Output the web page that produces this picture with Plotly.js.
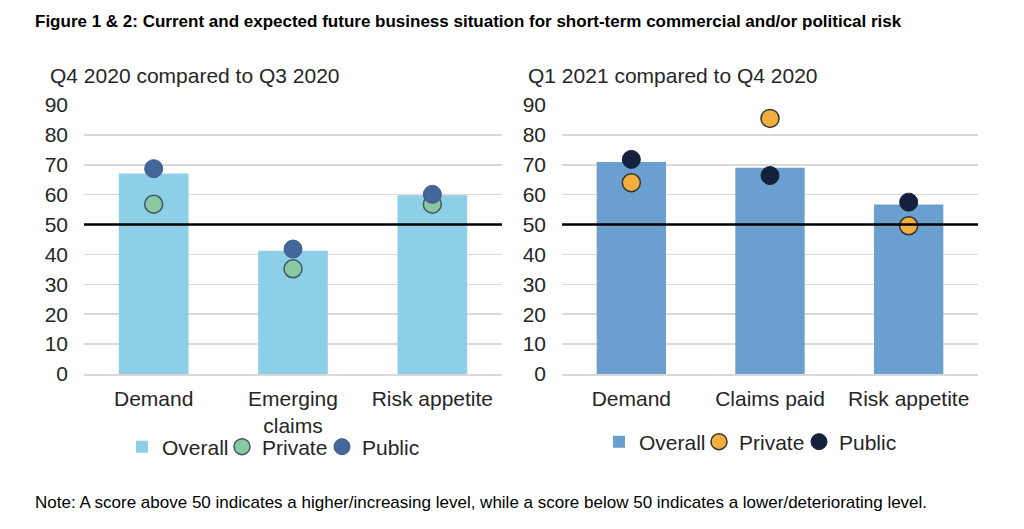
<!DOCTYPE html>
<html>
<head>
<meta charset="utf-8">
<script src="https://cdn.plot.ly/plotly-3.0.1.min.js"></script>
<style>html,body{margin:0;padding:0;background:#fff;}#chart{width:1024px;height:529px;}</style>
</head>
<body>
<div id="chart"></div>
<script>
// ---- Data ----
const leftCategories = ['Demand', 'Emerging<br>claims', 'Risk appetite'];
const leftOverall = [67.1, 41.2, 59.8];
const leftPrivate = [56.8, 35.2, 56.8];
const leftPublic = [68.7, 41.8, 60.1];

const rightCategories = ['Demand', 'Claims paid', 'Risk appetite'];
const rightOverall = [70.9, 69.0, 56.7];
const rightPrivate = [64.0, 85.5, 49.6];
const rightPublic = [71.8, 66.4, 57.5];

const yTicks = [0, 10, 20, 30, 40, 50, 60, 70, 80, 90];
const threshold = 50;

const leftTitle = 'Q4 2020 compared to Q3 2020';
const rightTitle = 'Q1 2021 compared to Q4 2020';
const figTitle = 'Figure 1 & 2: Current and expected future business situation for short-term commercial and/or political risk';
const noteText = 'Note: A score above 50 indicates a higher/increasing level, while a score below 50 indicates a lower/deteriorating level.';

// ---- Layout helpers ----
const W = 1024, H = 529;
const px = v => v / W;
const py = v => 1 - v / H;
const FONT = 'Liberation Sans, Arial, sans-serif';
const TXT = '#262626';
const FS = 21;

const traces = [
  {type: 'bar', x: leftCategories, y: leftOverall, name: 'Overall', xaxis: 'x', yaxis: 'y',
   marker: {color: '#8DCFE6'}, width: 0.5, legend: 'legend'},
  {type: 'scatter', mode: 'markers', x: leftCategories, y: leftPrivate, name: 'Private', xaxis: 'x', yaxis: 'y',
   marker: {color: '#88C9A1', size: 18, line: {color: '#44546A', width: 1.5}}, legend: 'legend'},
  {type: 'scatter', mode: 'markers', x: leftCategories, y: leftPublic, name: 'Public', xaxis: 'x', yaxis: 'y',
   marker: {color: '#44679A', size: 18, line: {color: '#3D5E8C', width: 1}}, legend: 'legend'},
  {type: 'bar', x: rightCategories, y: rightOverall, name: 'Overall', xaxis: 'x2', yaxis: 'y2',
   marker: {color: '#6A9FCF'}, width: 0.5, legend: 'legend2'},
  {type: 'scatter', mode: 'markers', x: rightCategories, y: rightPrivate, name: 'Private', xaxis: 'x2', yaxis: 'y2',
   marker: {color: '#F2AE3F', size: 18, line: {color: '#333333', width: 1.5}}, legend: 'legend2'},
  {type: 'scatter', mode: 'markers', x: rightCategories, y: rightPublic, name: 'Public', xaxis: 'x2', yaxis: 'y2',
   marker: {color: '#14213D', size: 18, line: {color: '#14213D', width: 1}}, legend: 'legend2'}
];

const yDomain = [py(374), py(105)];
const yAxisBase = {
  range: [0, 90], tickvals: yTicks, showgrid: true, gridcolor: '#D9D9D9', gridwidth: 1.5,
  zeroline: false, showline: false, ticks: '', tickfont: {family: FONT, size: FS, color: TXT},
  fixedrange: true, domain: yDomain, ticklabelstandoff: 15
};
const xAxisBase = {
  type: 'category', range: [-0.5, 2.5], showgrid: false, zeroline: false, showline: true,
  linecolor: '#D9D9D9', linewidth: 1.5, ticks: '', tickfont: {family: FONT, size: FS, color: TXT},
  fixedrange: true, ticklabelstandoff: 5
};
const legendBase = {
  orientation: 'h', xanchor: 'left', yanchor: 'middle',
  font: {family: FONT, size: FS, color: TXT}, itemwidth: 30, tracegroupgap: 0,
  entrywidth: 55, entrywidthmode: 'pixels', bgcolor: 'rgba(0,0,0,0)'
};

const layout = {
  width: W, height: H,
  margin: {l: 0, r: 0, t: 0, b: 0},
  paper_bgcolor: '#ffffff', plot_bgcolor: '#ffffff',
  font: {family: FONT, color: TXT},
  showlegend: true,
  xaxis: Object.assign({}, xAxisBase, {domain: [px(84), px(502)], anchor: 'y'}),
  yaxis: Object.assign({}, yAxisBase, {anchor: 'x'}),
  xaxis2: Object.assign({}, xAxisBase, {domain: [px(562), px(978)], anchor: 'y2'}),
  yaxis2: Object.assign({}, yAxisBase, {anchor: 'x2'}),
  legend: Object.assign({}, legendBase, {x: px(122), y: py(447)}),
  legend2: Object.assign({}, legendBase, {x: px(599), y: py(442)}),
  shapes: [
    {type: 'line', xref: 'x', yref: 'y', x0: -0.5, x1: 2.5, y0: threshold, y1: threshold,
     line: {color: '#000000', width: 2.5}, layer: 'above'},
    {type: 'line', xref: 'x2', yref: 'y2', x0: -0.5, x1: 2.5, y0: threshold, y1: threshold,
     line: {color: '#000000', width: 2.5}, layer: 'above'}
  ],
  annotations: [
    {text: '<b>' + figTitle + '</b>', xref: 'paper', yref: 'paper', x: px(33), y: py(22),
     xanchor: 'left', yanchor: 'middle', showarrow: false, font: {family: FONT, size: 17, color: '#000000'}},
    {text: leftTitle, xref: 'paper', yref: 'paper', x: px(48), y: py(75),
     xanchor: 'left', yanchor: 'middle', showarrow: false, font: {family: FONT, size: FS, color: TXT}},
    {text: rightTitle, xref: 'paper', yref: 'paper', x: px(526), y: py(75),
     xanchor: 'left', yanchor: 'middle', showarrow: false, font: {family: FONT, size: FS, color: TXT}},
    {text: noteText, xref: 'paper', yref: 'paper', x: px(33), y: py(502),
     xanchor: 'left', yanchor: 'middle', showarrow: false, font: {family: FONT, size: 17, color: '#000000'}}
  ]
};

Plotly.newPlot('chart', traces, layout, {displayModeBar: false, staticPlot: true});
</script>
</body>
</html>
